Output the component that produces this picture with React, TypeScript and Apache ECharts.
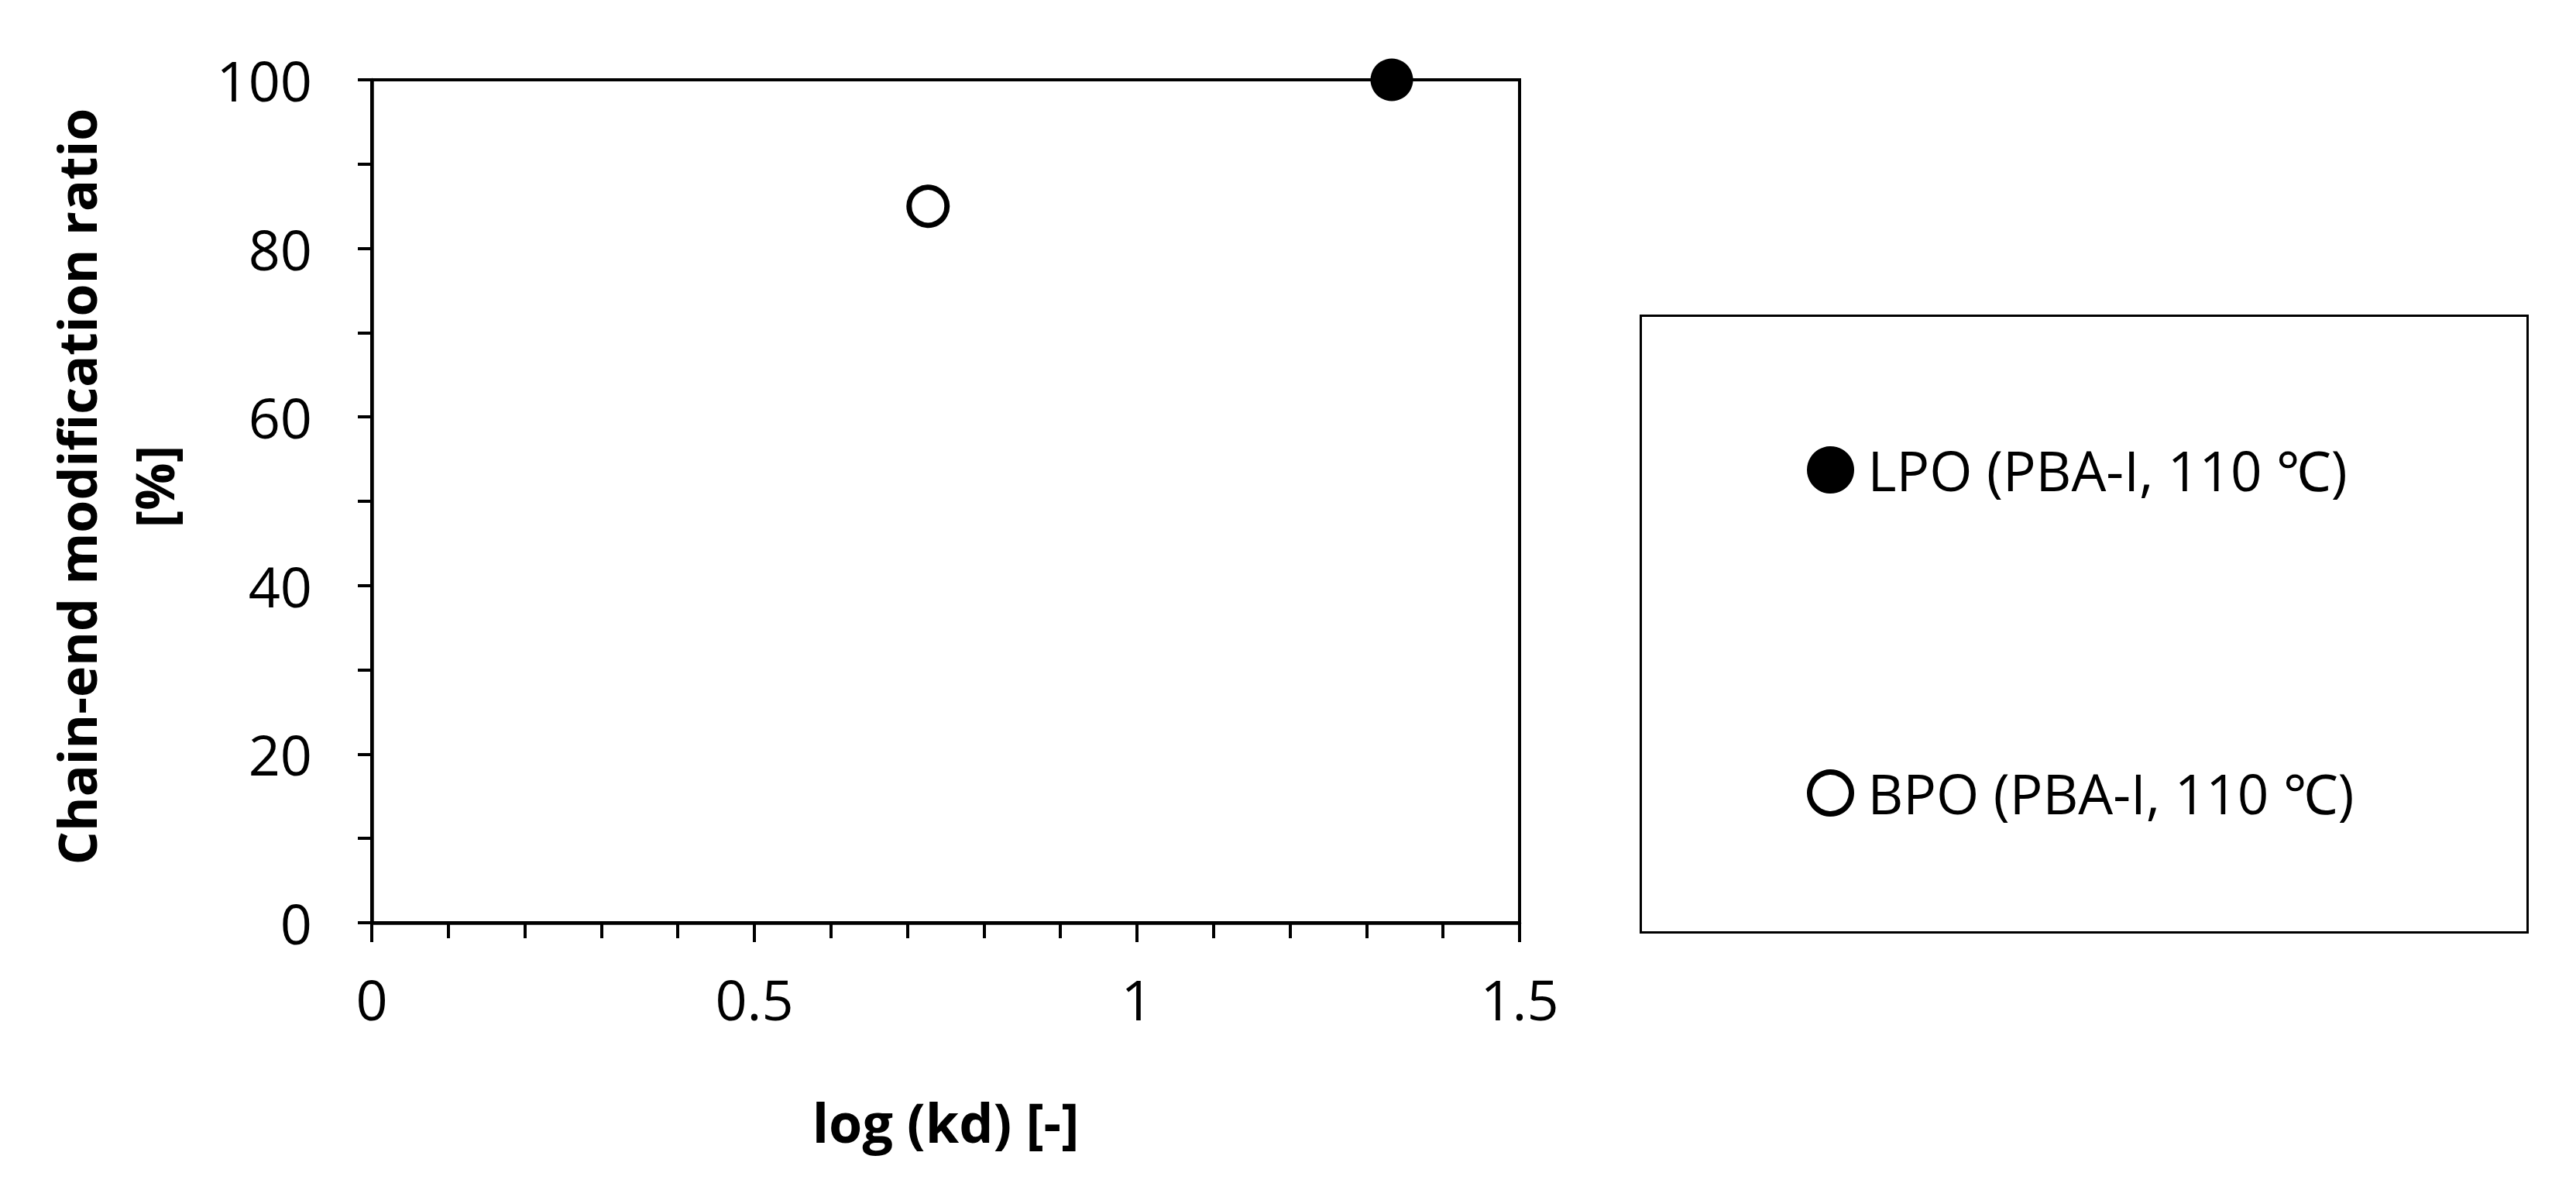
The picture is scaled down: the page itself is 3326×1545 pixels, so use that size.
import { useEffect, useRef } from 'react'
import * as echarts from 'echarts'

const SERIES_NAMES = ['LPO (PBA-I, 110 ℃)', 'BPO (PBA-I, 110 ℃)']
const LOG_KD = [1.333, 0.727]
const MOD_RATIO = [100, 85]
const FILLED = [true, false]

const X_TITLE = 'log (kd) [-]'
const Y_TITLE = 'Chain-end modification ratio\n[%]'

const FONT = '"Open Sans", "Noto Sans", sans-serif'

function buildOption() {
  return {
    animation: false,
    backgroundColor: '#ffffff',
    textStyle: { fontFamily: FONT, color: '#000' },
    grid: {
      left: 480,
      top: 103,
      width: 1482,
      height: 1088,
      show: true,
      borderColor: '#000',
      borderWidth: 4,
      backgroundColor: 'transparent',
    },
    graphic: [
      {
        type: 'rect',
        left: 2117,
        top: 406,
        shape: { width: 1145, height: 796 },
        style: { fill: 'transparent', stroke: '#000', lineWidth: 3 },
        z: 0,
      },
    ],
    legend: {
      orient: 'vertical',
      left: 2333,
      top: 571,
      itemWidth: 54,
      itemHeight: 54,
      itemGap: 346,
      padding: 0,
      icon: 'circle',
      itemStyle: { borderColor: '#000', borderWidth: 7 },
      textStyle: {
        fontFamily: FONT,
        fontSize: 71,
        color: '#000',
        padding: [0, 0, 0, 16],
      },
      data: SERIES_NAMES,
    },
    xAxis: {
      type: 'value',
      min: 0,
      max: 1.5,
      interval: 0.5,
      name: X_TITLE,
      nameLocation: 'middle',
      nameGap: 222,
      nameTextStyle: { fontFamily: FONT, fontSize: 70, fontWeight: 'bold', color: '#000' },
      axisLine: { show: true, lineStyle: { color: '#000', width: 4.5 } },
      axisTick: { show: true, inside: false, length: 25, lineStyle: { color: '#000', width: 4 } },
      minorTick: { show: true, splitNumber: 5, length: 20, lineStyle: { color: '#000', width: 4 } },
      axisLabel: {
        margin: 62,
        fontFamily: FONT,
        fontSize: 72,
        color: '#000',
        formatter: (v: number) => String(v),
      },
      splitLine: { show: false },
      minorSplitLine: { show: false },
    },
    yAxis: {
      type: 'value',
      min: 0,
      max: 100,
      interval: 20,
      name: Y_TITLE,
      nameLocation: 'middle',
      nameRotate: 90,
      nameGap: 232,
      nameTextStyle: {
        fontFamily: FONT,
        fontSize: 68,
        fontWeight: 'bold',
        color: '#000',
        lineHeight: 100,
        padding: [0, 0, 0, 38],
      },
      axisLine: { show: true, lineStyle: { color: '#000', width: 4.5 } },
      axisTick: { show: true, inside: false, length: 18, lineStyle: { color: '#000', width: 4 } },
      minorTick: { show: true, splitNumber: 2, length: 18, lineStyle: { color: '#000', width: 4 } },
      axisLabel: { margin: 77, fontFamily: FONT, fontSize: 72, color: '#000' },
      splitLine: { show: false },
      minorSplitLine: { show: false },
    },
    series: SERIES_NAMES.map((name, i) => ({
      name,
      type: 'scatter',
      symbol: 'circle',
      symbolSize: FILLED[i] ? 55 : 49,
      clip: false,
      itemStyle: {
        color: FILLED[i] ? '#000' : '#fff',
        borderColor: '#000',
        borderWidth: FILLED[i] ? 0 : 7,
        opacity: 1,
      },
      data: [[LOG_KD[i], MOD_RATIO[i]]],
      z: 5,
    })),
  }
}

export default function App() {
  const ref = useRef<HTMLDivElement>(null)

  useEffect(() => {
    const el = ref.current
    if (!el) return
    const chart = echarts.init(el, undefined, { renderer: 'svg' })
    chart.setOption(buildOption())
    return () => {
      chart.dispose()
    }
  }, [])

  return (
    <div
      ref={ref}
      style={{ position: 'absolute', left: 0, top: 0, width: 3326, height: 1545, background: '#fff' }}
    />
  )
}
